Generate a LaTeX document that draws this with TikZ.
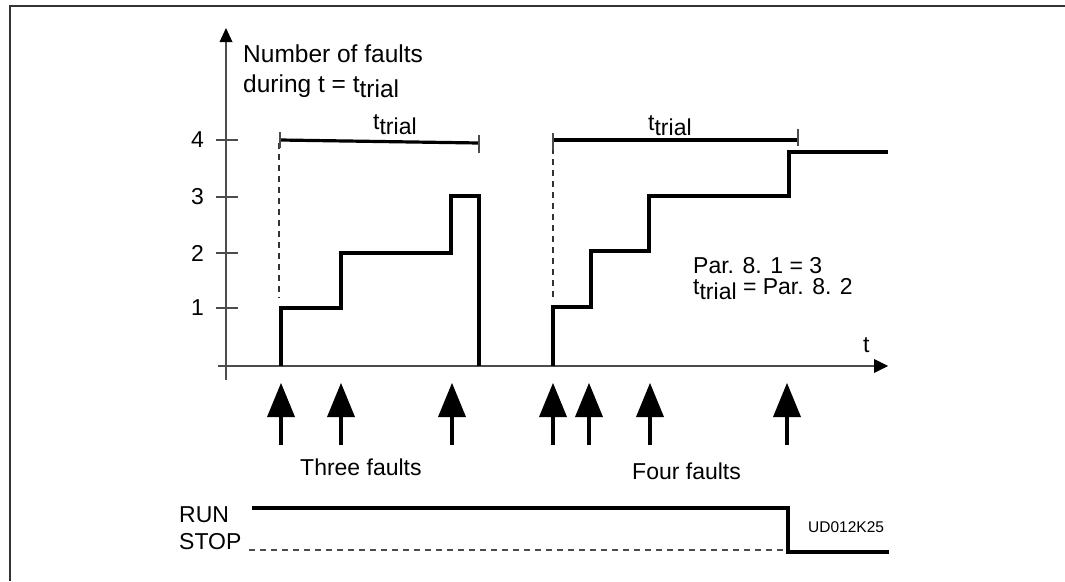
\documentclass[tikz,border=0pt]{standalone}
\usepackage{fontspec}
\setmainfont{Liberation Sans}
\newcommand\ttrial{t\raisebox{-5pt}{trial}}
\begin{document}
\begin{tikzpicture}[x=1pt,y=-1pt,
  txt/.style={inner sep=0pt,font=\fontsize{23}{27}\selectfont},
  bigtxt/.style={inner sep=0pt,font=\fontsize{24.5}{28}\selectfont},
  small/.style={inner sep=0pt,font=\fontsize{15.5}{18}\selectfont},
  axis/.style={draw=black!70,line width=1.4pt},
  tickmark/.style={draw=black!70,line width=1.2pt},
  curve/.style={draw=black,line width=3.4pt,line join=miter},
  span/.style={draw=black,line width=3.2pt},
  guide/.style={draw=black!80,line width=1.2pt,dash pattern=on 6pt off 5pt},
  frame/.style={draw=black!80,line width=1.6pt}]
\useasboundingbox (0,0) rectangle (1065,581);
\fill[white] (0,0) rectangle (1065,581);
% frame
\draw[frame] (10,581) -- (10,6) -- (1065,6);
% axes
\coordinate (yb) at (226,380); \coordinate (yt) at (226,42);
\coordinate (xl) at (218,366); \coordinate (xr) at (874,366);
\draw[axis] (yb) -- (yt);
\fill (219.5,42) -- (226,28) -- (232.5,42) -- cycle;
\draw[axis] (xl) -- (xr);
\fill (874,359) -- (888,366) -- (874,373) -- cycle;
% ticks and labels
\foreach \v/\yy in {4/140,3/197,2/253,1/308}{
  \draw[tickmark] (216,\yy) -- (238,\yy);
  \node[txt,anchor=east] (lab\v) at (204,\yy) {\v};
}
\node[bigtxt,anchor=base west] (ylab1) at (243,62) {Number of faults};
\node[bigtxt,anchor=base west] (ylab2) at (243,92) {during t = \ttrial};
\node[txt,anchor=base west] (tlab) at (863,352) {t};
% first episode
\draw[guide] (279,143) -- (279,298);
\draw[span] (280,140) -- (479,143);
\draw[tickmark] (280,132) -- (280,148);
\draw[tickmark] (479,135) -- (479,153);
\node[txt,anchor=base west] (tr1) at (373,129) {\ttrial};
\draw[curve] (281,366) -- (281,308) -- (341,308) -- (341,253) -- (451,253)
  -- (451,196) -- (479,196) -- (479,366);
% second episode
\draw[guide] (553,148) -- (553,300);
\draw[span] (553,140) -- (798,140);
\draw[tickmark] (553,133) -- (553,150);
\draw[tickmark] (798,129) -- (798,146);
\node[txt,anchor=base west] (tr2) at (648,130) {\ttrial};
\draw[curve] (553,366) -- (553,307) -- (591,307) -- (591,251) -- (649,251)
  -- (649,196) -- (789,196) -- (789,152) -- (888,152);
\node[txt,anchor=base west] (par1) at (693,273) {Par. 8. 1 = 3};
\node[txt,anchor=base west] (par2) at (693,294) {\ttrial{} = Par. 8. 2};
% fault arrows
\foreach \xx in {281,341,452,553,589,650,787}{
  \fill (\xx-14,417) -- (\xx,383) -- (\xx+14,417) -- cycle;
  \draw[line width=3.2pt] (\xx,416) -- (\xx,445);
}
\node[txt,anchor=base west] (three) at (300,475) {Three faults};
\node[txt,anchor=base west] (four) at (632,479) {Four faults};
% run / stop
\node[txt,anchor=base west] (run) at (179,522) {RUN};
\node[txt,anchor=base west] (stop) at (179,549) {STOP};
\draw[guide,draw=black!70] (249,550) -- (788,550);
\draw[line width=3.2pt,line join=miter] (252,508) -- (788,508) -- (788,552) -- (889,552);
\node[small,anchor=base west] (code) at (808,532) {UD012K25};
\end{tikzpicture}
\end{document}
